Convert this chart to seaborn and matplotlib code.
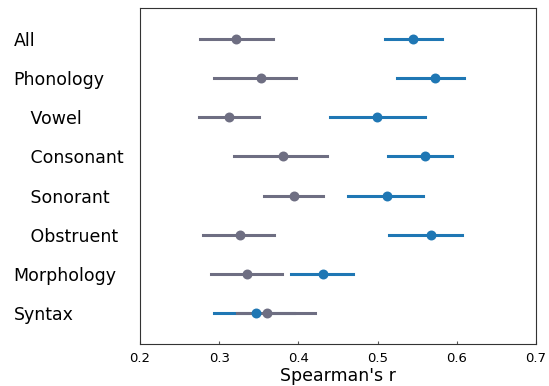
# Spearman correlations per feature group, two conditions (point + interval)
import pandas as pd
import matplotlib.pyplot as plt
import seaborn as sns
import numpy as np

categories = ["All", "Phonology", "   Vowel", "   Consonant", "   Sonorant",
              "   Obstruent", "Morphology", "Syntax"]

# grey series
base_mean = [0.321, 0.353, 0.312, 0.380, 0.394, 0.326, 0.335, 0.360]
base_lo = [0.276, 0.293, 0.274, 0.319, 0.357, 0.280, 0.290, 0.322]
base_hi = [0.368, 0.397, 0.350, 0.436, 0.431, 0.369, 0.379, 0.421]

# blue series
model_mean = [0.545, 0.572, 0.499, 0.560, 0.512, 0.567, 0.431, 0.347]
model_lo = [0.509, 0.524, 0.440, 0.513, 0.463, 0.515, 0.391, 0.294]
model_hi = [0.581, 0.609, 0.560, 0.594, 0.557, 0.607, 0.469, 0.395]

# long table: lo / mean / hi per row, median = mean, full range = interval
rows = []
for name, lo, mid, hi in [("model", model_lo, model_mean, model_hi),
                          ("baseline", base_lo, base_mean, base_hi)]:
    for i, c in enumerate(categories):
        for v in (lo[i], mid[i], hi[i]):
            rows.append({"group": c, "r": v, "series": name})
df = pd.DataFrame(rows)

fig, ax = plt.subplots(figsize=(5.49, 3.86), dpi=100)
ax.grid(axis="y", color="#cccccc", lw=1, zorder=0)
ax.set_axisbelow(True)

sns.pointplot(data=df, x="r", y="group", hue="series", order=categories,
              hue_order=["model", "baseline"],
              palette={"model": "#1f77b4", "baseline": "#6e6e82"},
              estimator=np.median, errorbar=("pi", 100), linestyle="none",
              dodge=False, markersize=5.5, linewidth=2.2,
              err_kws={"zorder": 1.5}, legend=False, ax=ax)

ax.set_xlim(0.2, 0.7)
ax.set_ylim(7.8, -0.8)
ax.set_xticks([0.2, 0.3, 0.4, 0.5, 0.6, 0.7])
ax.set_xticklabels(["0.2", "0.3", "0.4", "0.5", "0.6", "0.7"])
ax.tick_params(axis="x", labelsize=9.5, length=2, direction="in", pad=6,
               color="#555555")
ax.tick_params(axis="y", length=0, labelsize=12.5, pad=91)
for t in ax.get_yticklabels():
    t.set_horizontalalignment("left")
ax.set_xlabel("Spearman's r", fontsize=12.5, labelpad=1)
ax.set_ylabel("")
for s in ax.spines.values():
    s.set_color("#333333")

plt.subplots_adjust(left=140/549, right=536/549, top=1-8/386, bottom=1-344/386)
plt.savefig("out.png")
